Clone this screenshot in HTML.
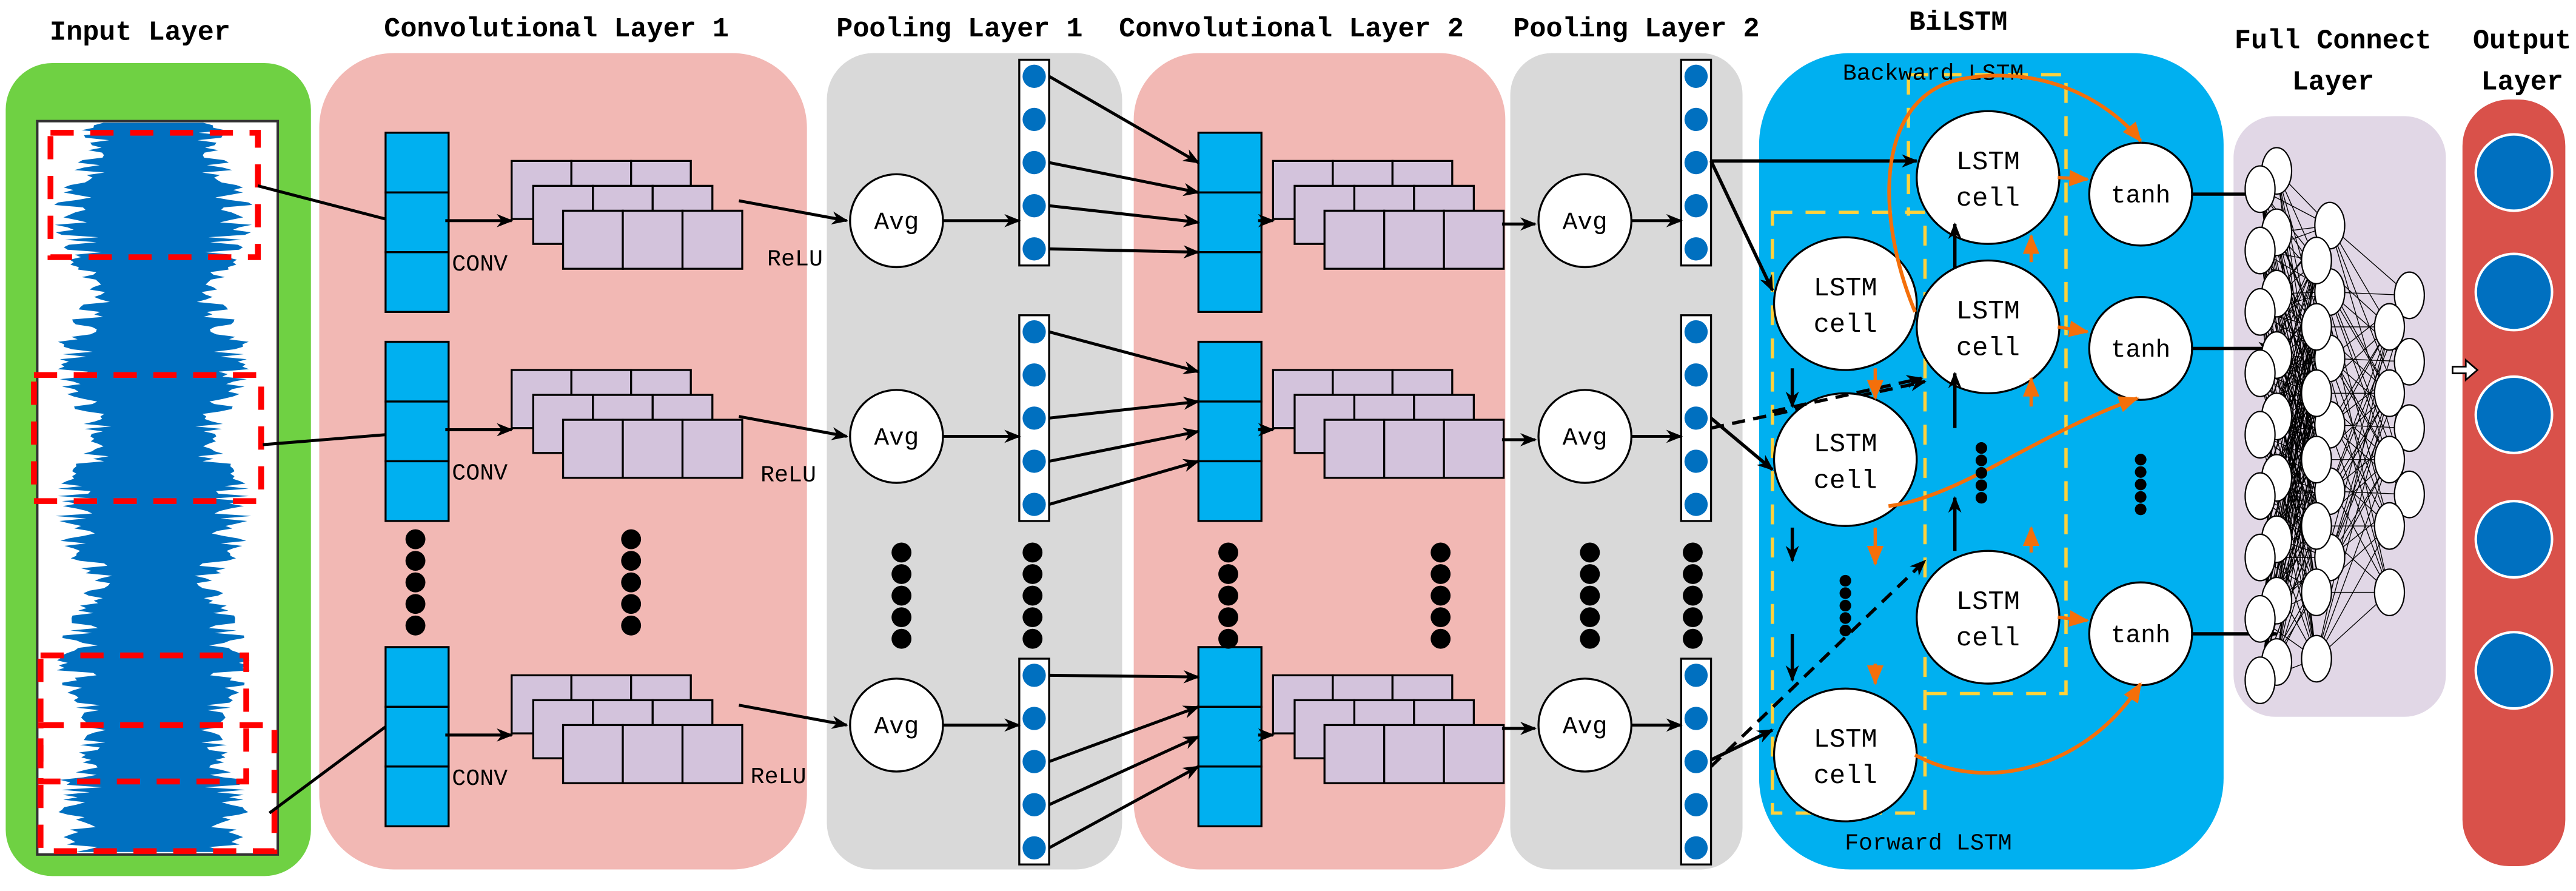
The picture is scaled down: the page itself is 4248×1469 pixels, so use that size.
<!DOCTYPE html>
<html><head><meta charset="utf-8"><style>
html,body{margin:0;padding:0;background:#fff;}
svg{display:block;}
text{font-family:"Liberation Mono","DejaVu Sans Mono",monospace;}
</style></head><body>
<svg id="s" xmlns="http://www.w3.org/2000/svg" width="4248" height="1469" viewBox="0 0 1552 537">
<defs>
<marker id="ab" markerWidth="10" markerHeight="8" refX="9" refY="4" orient="auto" markerUnits="userSpaceOnUse"><path d="M0,0 L10,4 L0,8 L3,4z" fill="#000"/></marker>
<marker id="ao" markerWidth="12" markerHeight="10" refX="11" refY="5" orient="auto" markerUnits="userSpaceOnUse"><path d="M0,0 L12,5 L0,10z" fill="#f46f0a"/></marker>
</defs>
<g font-size="16.5" font-weight="bold" fill="#000" text-anchor="middle">
<text x="84" y="24">Input Layer</text>
<text x="335" y="22">Convolutional Layer 1</text>
<text x="578" y="22">Pooling Layer 1</text>
<text x="778" y="22">Convolutional Layer 2</text>
<text x="986" y="22">Pooling Layer 2</text>
<text x="1180" y="18">BiLSTM</text>
<text x="1406" y="29">Full Connect</text>
<text x="1406" y="54">Layer</text>
<text x="1520" y="29">Output</text>
<text x="1520" y="54">Layer</text>
</g>
<rect x="3" y="38" width="184" height="490" rx="28" fill="#6fd143"/>
<rect x="192" y="32" width="294" height="492" rx="45" fill="#f2b8b4"/>
<rect x="498" y="32" width="178" height="492" rx="28" fill="#d9d9d9"/>
<rect x="683" y="32" width="224" height="492" rx="40" fill="#f2b8b4"/>
<rect x="910" y="32" width="140" height="492" rx="25" fill="#d9d9d9"/>
<rect x="1060" y="32" width="280" height="492" rx="55" fill="#00b0f0"/>
<rect x="1346" y="70" width="128" height="362" rx="25" fill="#e1d7e6"/>
<rect x="1484" y="60" width="62" height="462" rx="28" fill="#d9514a"/>
<rect x="22" y="73" width="145" height="442" fill="#fff" stroke="#333" stroke-width="1.5"/>
<path id="wave" fill="#0070c0"/>
<g fill="none" stroke="#ff0000" stroke-width="3.5" stroke-dasharray="14,10">
<rect x="30" y="80" width="125" height="75"/>
<rect x="20" y="226" width="137" height="76"/>
<rect x="24" y="395" width="124" height="76"/>
<rect x="24" y="437" width="141" height="76"/>
</g>
<g stroke="#000" stroke-width="1.8">
<line x1="155" y1="112" x2="232" y2="132"/>
<line x1="158" y1="268" x2="232" y2="262"/>
<line x1="162" y1="490" x2="232" y2="438"/>
</g>
<g id="convs"></g>
<g fill="none" stroke="#ffd23c" stroke-width="2" stroke-dasharray="12,8">
<path d="M1150,45 H1245 V418 H1160"/>
<path d="M1150,45 V130"/>
<path d="M1068,128 H1160 V490 H1068 Z"/>
</g>
<g font-size="14" fill="#000" text-anchor="middle">
<text x="1165" y="48">Backward LSTM</text>
<text x="1162" y="512">Forward LSTM</text>
</g>
<g id="lstm"></g>
<g fill="#0070c0" stroke="#fff" stroke-width="1.5">
<circle cx="1515" cy="104" r="23"/><circle cx="1515" cy="176" r="23"/><circle cx="1515" cy="250" r="23"/><circle cx="1515" cy="325" r="23"/><circle cx="1515" cy="404" r="23"/>
</g>
<path d="M1478,221 h8 v-4 l7,6 l-7,6 v-4 h-8z" fill="#fff" stroke="#000" stroke-width="1"/>
<g id="fc"></g>
</svg>
<script>
var NS="http://www.w3.org/2000/svg";
function el(p,t,a,txt){var e=document.createElementNS(NS,t);for(var k in a)e.setAttribute(k,a[k]);if(txt!==undefined)e.textContent=txt;p.appendChild(e);return e;}
(function(){var seed=7;function r(){seed=(seed*9301+49297)%233280;return seed/233280;}
var L=[],R=[];for(var y=74;y<=514;y+=1.5){var env=0.55+0.35*Math.abs(Math.sin(y/28))*(0.6+0.4*r());var a=(r()<0.3?1:0.6+0.4*r())*env;var c=92;L.push((c-a*68).toFixed(1)+","+y);R.push((c+a*68).toFixed(1)+","+y);}
var d="M"+L.join(" L")+" L"+R.reverse().join(" L")+"Z";document.getElementById("wave").setAttribute("d",d);})();
var g=document.getElementById("convs");
function dots(x,y0){for(var i=0;i<5;i++)el(g,"circle",{cx:x,cy:y0+i*13,r:6,fill:"#000"});}
function column(x,y){for(var i=0;i<3;i++)el(g,"rect",{x:x,y:y+i*36,width:38,height:36,fill:"#00b0f0",stroke:"#000","stroke-width":1.2});}
function stack(x,y){var o=[[0,0],[13,15],[31,30]];o.forEach(function(p){for(var i=0;i<3;i++)el(g,"rect",{x:x+p[0]+i*36,y:y+p[1],width:36,height:35,fill:"#d3c3dc",stroke:"#000","stroke-width":1.2});});}
function pool(x,y){el(g,"rect",{x:x-9,y:y,width:18,height:124,fill:"#fff",stroke:"#000","stroke-width":1.2});for(var i=0;i<5;i++)el(g,"circle",{cx:x,cy:y+10+i*26,r:7,fill:"#0070c0"});}
function avg(x,y){el(g,"circle",{cx:x,cy:y,r:28,fill:"#fff",stroke:"#000","stroke-width":1.2});el(g,"text",{x:x,y:y+5,"font-size":15,"text-anchor":"middle"},"Avg");}
function line(x1,y1,x2,y2,dash){var a={x1:x1,y1:y1,x2:x2,y2:y2,stroke:"#000","stroke-width":1.8,"marker-end":"url(#ab)"};if(dash)a["stroke-dasharray"]=dash;el(g,"line",a);}
var rows=[[80,133,36],[206,263,190],[390,437,397]];
var relu=[[462,160],[458,290],[452,472]];
rows.forEach(function(r,i){
 column(232,r[0]);stack(308,r[0]+17);
 el(g,"text",{x:272,y:r[0]+83,"font-size":14},"CONV");
 el(g,"text",{x:relu[i][0],y:relu[i][1],"font-size":14},"ReLU");
 line(268,r[0]+53,308,r[0]+53);
 line(445,r[1]-12,510,r[1]);
 avg(540,r[1]);
 pool(623,r[2]);
 line(568,r[1],614,r[1]);
 column(722,r[0]);stack(767,r[0]+17);
 line(758,r[0]+53,767,r[0]+53);
 line(905,r[1]+2,925,r[1]+2);
 avg(955,r[1]);
 pool(1022,r[2]);
 line(983,r[1],1013,r[1]);
 var ys=[r[2]+10,r[2]+36,r[2]+62,r[2]+88,r[2]+114];
 line(632,ys[0],722,r[0]+18);line(632,ys[2],722,r[0]+36);line(632,ys[3],722,r[0]+54);line(632,ys[4],722,r[0]+72);
});
[250,380].forEach(function(x){dots(x,325);});
[543,622,740,868,958,1020].forEach(function(x){dots(x,333);});
var h=document.getElementById("lstm");
function cell(x,y){el(h,"ellipse",{cx:x,cy:y,rx:43,ry:40,fill:"#fff",stroke:"#000","stroke-width":1.2});el(h,"text",{x:x,y:y-5,"font-size":16,"text-anchor":"middle"},"LSTM");el(h,"text",{x:x,y:y+17,"font-size":16,"text-anchor":"middle"},"cell");}
function tanh(x,y){el(h,"circle",{cx:x,cy:y,r:31,fill:"#fff",stroke:"#000","stroke-width":1.2});el(h,"text",{x:x,y:y+5,"font-size":15,"text-anchor":"middle"},"tanh");}
function L(x1,y1,x2,y2,c,dash,w){var a={x1:x1,y1:y1,x2:x2,y2:y2,stroke:c=="o"?"#f46f0a":"#000","stroke-width":w||2,"marker-end":c=="o"?"url(#ao)":"url(#ab)"};if(dash)a["stroke-dasharray"]=dash;el(h,"line",a);}
function P(d,c,dash){var a={d:d,fill:"none",stroke:c=="o"?"#f46f0a":"#000","stroke-width":2.2,"marker-end":c=="o"?"url(#ao)":"url(#ab)"};if(dash)a["stroke-dasharray"]=dash;el(h,"path",a);}
var B=[[1198,107],[1198,197],[1198,372]],F=[[1112,183],[1112,277],[1112,455]],T=[[1290,117],[1290,210],[1290,382]];
L(1031,97,1155,97,"b");
L(1031,97,1068,175,"b");
L(1031,252,1068,283,"b");
L(1031,258,1160,230,"b","8,5");
L(1031,458,1068,440,"b");
L(1031,462,1160,338,"b","8,5");
B.forEach(function(p){cell(p[0],p[1]);});F.forEach(function(p){cell(p[0],p[1]);});T.forEach(function(p){tanh(p[0],p[1]);});
L(1178,162,1178,135,"b");L(1178,258,1178,225,"b");L(1178,332,1178,300,"b");
L(1080,222,1080,245,"b");L(1080,318,1080,338,"b");L(1080,382,1080,410,"b");
L(1068,248,1158,228,"b","8,5");
L(1240,107,1258,108,"o");L(1240,197,1258,200,"o");L(1240,372,1258,374,"o");
L(1224,158,1224,142,"o");L(1224,245,1224,228,"o");L(1224,333,1224,318,"o");
L(1130,222,1130,240,"o");L(1130,318,1130,340,"o");L(1130,400,1130,412,"o");
P("M1154,188 C1130,130 1130,60 1180,48 C1230,38 1270,60 1290,85","o");
P("M1138,305 C1180,300 1230,260 1288,240","o");
P("M1154,455 C1200,480 1260,460 1290,412","o");
for(var i=0;i<5;i++)el(h,"circle",{cx:1194,cy:270+i*7.5,r:3.5,fill:"#000"});
for(var i=0;i<5;i++)el(h,"circle",{cx:1290,cy:277+i*7.5,r:3.5,fill:"#000"});
for(var i=0;i<5;i++)el(h,"circle",{cx:1112,cy:350+i*7.5,r:3.5,fill:"#000"});
L(1321,117,1370,117,"b");L(1321,210,1370,210,"b");L(1321,382,1372,382,"b");
var f=document.getElementById("fc");
function col(x,n,y0,dy){var a=[];for(var i=0;i<n;i++)a.push([x,y0+i*dy]);return a;}
var l1=col(1362,9,114,37),l1b=col(1372,9,103,37),l2=col(1396,7,157,40),l2b=col(1404,6,136,40),l3=col(1440,5,197,40),l3b=col(1452,4,178,40);
var nets=[[l1,l2],[l1b,l2b],[l2,l3],[l2b,l3b],[l1,l2b]];
var s="";nets.forEach(function(pr){pr[0].forEach(function(a){pr[1].forEach(function(b){s+="M"+a[0]+","+a[1]+"L"+b[0]+","+b[1];});});});
el(f,"path",{d:s,stroke:"#000","stroke-width":0.5,fill:"none"});
[l1b,l1,l2b,l2,l3b,l3].forEach(function(l){l.forEach(function(p){el(f,"ellipse",{cx:p[0],cy:p[1],rx:9,ry:14,fill:"#fff",stroke:"#000","stroke-width":0.8});});});
</script>
</body></html>
